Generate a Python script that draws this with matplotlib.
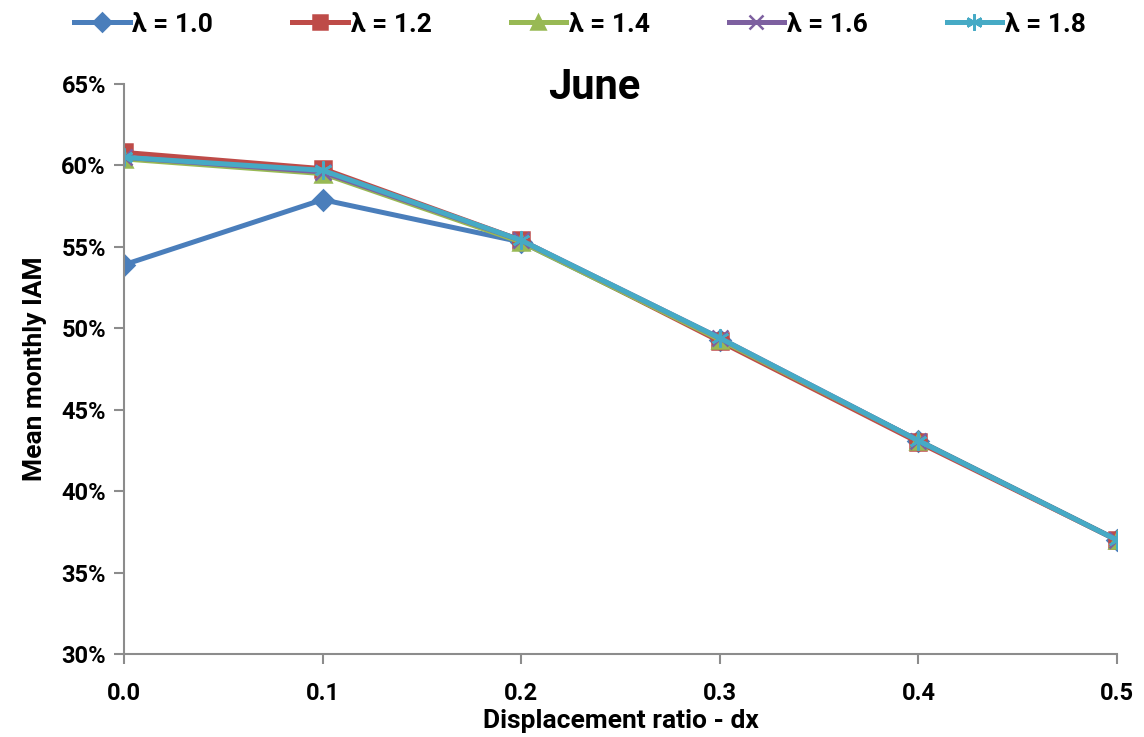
import numpy as np
import matplotlib
matplotlib.use("Agg")
import matplotlib.pyplot as plt
from matplotlib.ticker import FuncFormatter

plt.rcParams["font.family"] = ["Roboto", "DejaVu Sans"]
plt.rcParams["font.weight"] = "bold"

dx = [0.0, 0.1, 0.2, 0.3, 0.4, 0.5]
iam_l10 = [53.9, 57.9, 55.3, 49.3, 43.1, 37.0]
iam_l12 = [60.8, 59.8, 55.4, 49.2, 43.0, 37.0]
iam_l14 = [60.4, 59.5, 55.3, 49.3, 43.1, 37.0]
iam_l16 = [60.5, 59.6, 55.4, 49.4, 43.1, 37.0]
iam_l18 = [60.5, 59.7, 55.4, 49.4, 43.1, 37.0]

series = [
    ("λ = 1.0", iam_l10, "#4a7ebb", "D", 10),
    ("λ = 1.2", iam_l12, "#be4b48", "s", 11),
    ("λ = 1.4", iam_l14, "#98b954", "^", 11),
    ("λ = 1.6", iam_l16, "#7d60a0", "x", 11),
    ("λ = 1.8", iam_l18, "#46aac5", (6, 2, 0), 13),
]

fig = plt.figure(figsize=(11.44, 7.37), dpi=100)
ax = fig.add_axes([0.1084, 0.1126, 0.868, 0.7734])

handles = []
for label, vals, color, marker, ms in series:
    (h,) = ax.plot(dx, vals, color=color, lw=3.6, marker=marker, markersize=ms,
                   markeredgecolor=color, markeredgewidth=1.8, label=label,
                   solid_joinstyle="round")
    handles.append(h)

ax.set_xlim(0, 0.5)
ax.set_ylim(30, 65)
ax.set_xticks(dx)
ax.set_yticks(np.arange(30, 66, 5))
ax.xaxis.set_major_formatter(FuncFormatter(lambda v, p: f"{v:.1f}"))
ax.yaxis.set_major_formatter(FuncFormatter(lambda v, p: f"{v:.0f}%"))

for side in ("top", "right"):
    ax.spines[side].set_visible(False)
for side in ("left", "bottom"):
    ax.spines[side].set_color("#8c8c8c")
    ax.spines[side].set_linewidth(1.5)
ax.tick_params(axis="both", colors="#8c8c8c", width=1.5, length=7,
               labelcolor="black", labelsize=17)
ax.tick_params(axis="x", pad=13)
ax.tick_params(axis="y", pad=6)
for t in ax.get_xticklabels() + ax.get_yticklabels():
    t.set_fontweight("bold")

ax.set_xlabel("Displacement ratio - dx", fontsize=19, fontweight="bold", labelpad=3)
ax.set_ylabel("Mean monthly IAM", fontsize=19, fontweight="bold", labelpad=10)
ax.text(0.2367, 64.8, "June", fontsize=30, fontweight="bold", ha="center", va="center")

fig.legend(handles=handles, loc="upper center", ncol=5, bbox_to_anchor=(0.507, 1.015),
           frameon=False, handlelength=2.1, columnspacing=3.0, markerscale=0.9,
           handletextpad=0.1, prop={"weight": "bold", "size": 19})

fig.savefig("out.png", dpi=100)
